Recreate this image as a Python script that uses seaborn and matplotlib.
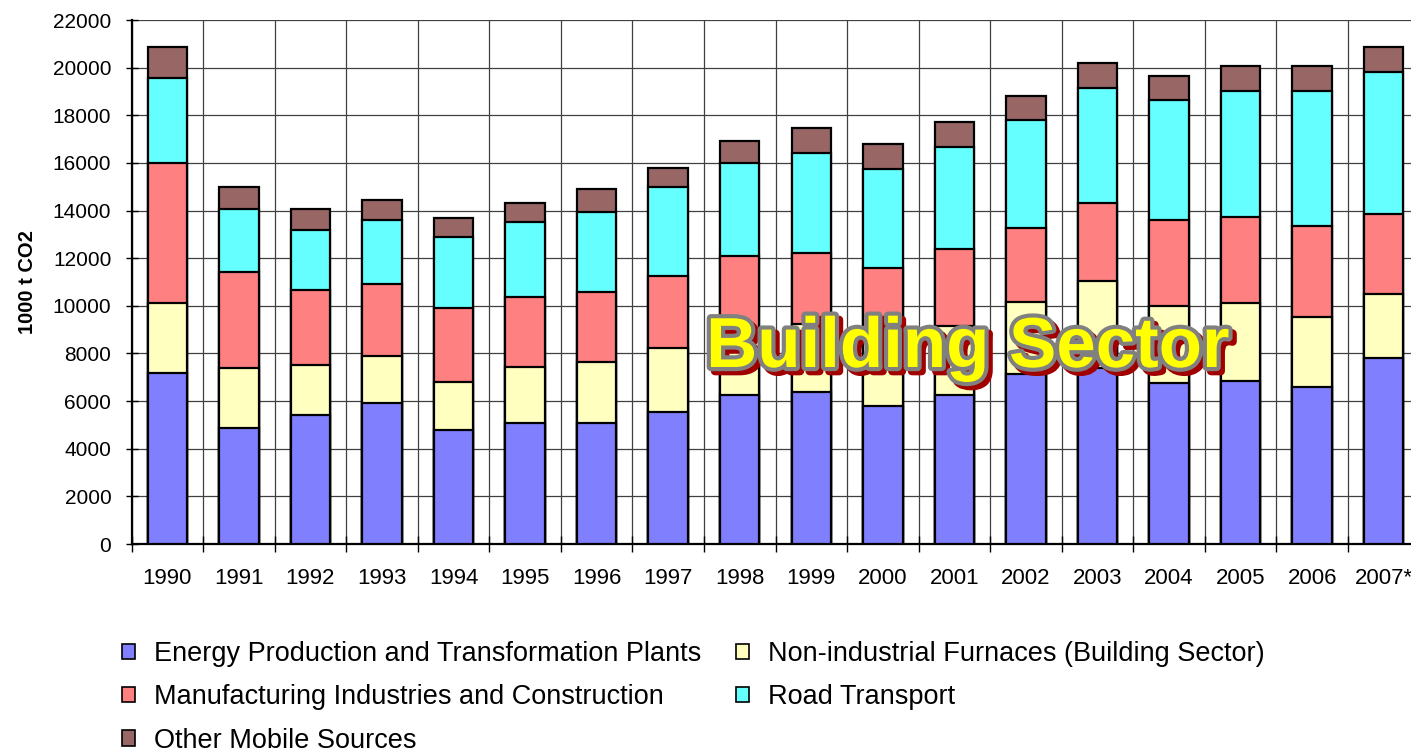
import numpy as np
import matplotlib
matplotlib.use('Agg')
import matplotlib.pyplot as plt
import matplotlib.patheffects as pe
from matplotlib.patches import Patch
import seaborn as sns

# Data (1000 t CO2)
years = ['1990', '1991', '1992', '1993', '1994', '1995', '1996', '1997', '1998',
         '1999', '2000', '2001', '2002', '2003', '2004', '2005', '2006', '2007*']
energy = [7200, 4850, 5400, 5900, 4800, 5100, 5100, 5550, 6250,
          6400, 5800, 6250, 7150, 7400, 6750, 6850, 6600, 7800]
furnaces = [2900, 2550, 2100, 2000, 2000, 2350, 2550, 2700, 2650,
            2850, 2900, 2900, 3000, 3650, 3250, 3250, 2950, 2700]
manufacturing = [5900, 4000, 3150, 3000, 3100, 2900, 2950, 3000, 3200,
                 2950, 2900, 3250, 3100, 3250, 3600, 3650, 3800, 3350]
road = [3550, 2650, 2550, 2700, 3000, 3150, 3350, 3750, 3900,
        4200, 4150, 4250, 4550, 4850, 5050, 5250, 5650, 5950]
other_mobile = [1300, 950, 850, 850, 800, 800, 950, 800, 900,
                1050, 1050, 1050, 1000, 1050, 1000, 1050, 1050, 1050]

series = [
    ('Energy Production and Transformation Plants', energy, '#8080FF'),
    ('Non-industrial Furnaces (Building Sector)', furnaces, '#FFFFC0'),
    ('Manufacturing Industries and Construction', manufacturing, '#FF8080'),
    ('Road Transport', road, '#66FFFF'),
    ('Other Mobile Sources', other_mobile, '#996666'),
]

sns.set_style('white')
plt.rcParams['font.family'] = ['Liberation Sans', 'DejaVu Sans']
plt.rcParams['text.color'] = 'black'
plt.rcParams['xtick.color'] = 'black'
plt.rcParams['ytick.color'] = 'black'
plt.rcParams['axes.labelcolor'] = 'black'

fig = plt.figure(figsize=(14.11, 7.52), dpi=100)
ax = fig.add_axes([131.5 / 1411, 208 / 752, 1288 / 1411, 524 / 752])

# stacked bars: draw cumulative totals from top layer down
cum = np.cumsum(np.array([s[1] for s in series]), axis=0)
for i in range(len(series) - 1, -1, -1):
    sns.barplot(x=years, y=cum[i], color=series[i][2], saturation=1,
                edgecolor='black', linewidth=1.6, width=0.55, ax=ax, zorder=3)

ax.set_xlim(-0.5, len(years) - 0.5)
ax.set_ylim(0, 22000)
ax.set_yticks(np.arange(0, 22001, 2000))
ax.tick_params(axis='y', labelsize=15, length=9, width=1, pad=10, direction='inout', left=True)

ax.set_xticks(np.arange(-0.5, len(years), 1))
ax.set_xticklabels([])
ax.set_xticks(np.arange(len(years)), minor=True)
ax.set_xticklabels(years, minor=True)
ax.tick_params(axis='x', which='major', length=11, width=1, direction='inout', bottom=True)
ax.tick_params(axis='x', which='minor', length=0, labelsize=16, pad=17)

ax.grid(True, which='major', axis='both', color='#404040', linewidth=0.9)
ax.set_axisbelow(True)
for side in ['top', 'right']:
    ax.spines[side].set_visible(False)
for side in ['left', 'bottom']:
    ax.spines[side].set_color('black')
    ax.spines[side].set_linewidth(1.6)

ax.set_xlabel('')
ax.set_ylabel('1000 t CO2', fontsize=14.5, fontweight='bold', labelpad=11)

# legend (column-first order gives the row layout of the reference)
order = [0, 2, 4, 1, 3]
handles = [Patch(facecolor=series[k][2], edgecolor='black', linewidth=1.2) for k in order]
labels = [series[k][0] for k in order]
fig.legend(handles, labels, loc='upper left', bbox_to_anchor=(122 / 1411, 1 - 641 / 752),
           ncol=2, frameon=False, fontsize=19.5, handlelength=0.48, handleheight=0.48,
           handletextpad=0.7, labelspacing=0.64, columnspacing=1.3,
           borderpad=0, borderaxespad=0)

# overlay caption
fig.text(968 / 1411, 1 - 349 / 752, 'Building Sector', fontsize=51, fontweight='bold',
         color='#FFFF00', ha='center', va='center', zorder=10,
         path_effects=[pe.SimplePatchShadow(offset=(3, -3), shadow_rgbFace='#A00000', alpha=1.0),
                       pe.Stroke(offset=(3, -3), linewidth=6, foreground='#A00000'),
                       pe.Stroke(linewidth=6, foreground='#808080'),
                       pe.Normal()])

fig.savefig('out.png', dpi=100)
